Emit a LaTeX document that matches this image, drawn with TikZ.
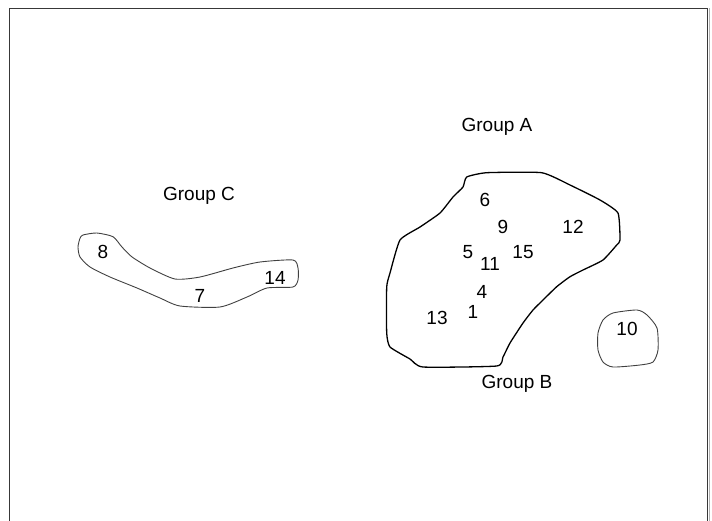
\documentclass[tikz,border=0pt]{standalone}
\usepackage{fontspec}
\setmainfont{Liberation Sans}
\usetikzlibrary{positioning}
\definecolor{frame}{rgb}{0.22,0.22,0.22}
\definecolor{soft}{rgb}{0.25,0.25,0.25}

\begin{document}
\begin{tikzpicture}[x=1pt, y=-1pt,
		n/.style = {inner sep=0pt, font=\fontsize{19}{22}\selectfont},
		g/.style = {inner sep=0pt, font=\fontsize{19}{22}\selectfont},
		blob/.style = {draw=black, line width=1.3pt, line join=round},
		thin blob/.style = {draw=soft, line width=0.9pt, line join=round},
		]
		\useasboundingbox (0,0) rectangle (712,520);
		
		% === === Frame === ===
		\draw[frame, line width=1.8pt] (9.5,522) -- (9.5,8.5) -- (707.5,8.5) -- (707.5,522);
		\draw[gray!60, line width=0.8pt] (709,8) -- (709,522);
		
		% === === Outlines === ===
		\draw[blob] plot[smooth cycle, tension=0.3] coordinates {
			(466.7,177) (486.7,172.7) (541.7,172.7) (570,185) (600,200) (618,213)
			(620,240) (616.7,245) (603,260) (583,270) (570,276.7) (556.7,286.7)
			(543,300) (533,310) (523,323) (510,343) (503,357) (496.7,366)
			(423,367) (410,359) (390,347) (386.7,333) (386.7,287) (390,273)
			(400,240) (420,227) (440,213) (453,197) (463,187)};
		\draw[thin blob] plot[smooth cycle, tension=0.4] coordinates {
			(80,238.3) (83,235) (96.7,233) (113,236.7) (121.7,246.7) (131.7,256.7)
			(150,268) (175,279) (200,277) (233,268) (260,262) (293,260)
			(298,268) (298,280) (293,287) (267,288) (247,297) (220,307)
			(180,306) (160,298) (137,288) (110,277) (90,267) (80,257) (78,247)};
		\draw[thin blob] plot[smooth cycle, tension=0.4] coordinates {
			(603,320) (613,313) (637,310) (647,315) (657,328) (658,350)
			(653,362) (640,365) (613,367) (603,362) (598,350) (598,333)};
		
		% === === Labels === ===
		\node[g] (grpA) at (497,127) {Group A};
		\node[g] (grpB) at (517,384) {Group B};
		\node[g] (grpC) at (199,196) {Group C};
		
		% === === Numbers === ===
		\node[n] (n6)  at (485,200) {6};
		\node[n] (n9)  at (503,227) {9};
		\node[n] (n12) at (573,227) {12};
		\node[n] (n5)  at (468,252) {5};
		\node[n] (n11) at (490,264) {11};
		\node[n] (n15) at (523,252) {15};
		\node[n] (n4)  at (482,292) {4};
		\node[n] (n13) at (437,318) {13};
		\node[n] (n1)  at (473,312) {1};
		\node[n] (n10) at (627,329) {10};
		\node[n] (n8)  at (103,252) {8};
		\node[n] (n14) at (275,278) {14};
		\node[n] (n7)  at (200,296) {7};
		
	\end{tikzpicture}
\end{document}
